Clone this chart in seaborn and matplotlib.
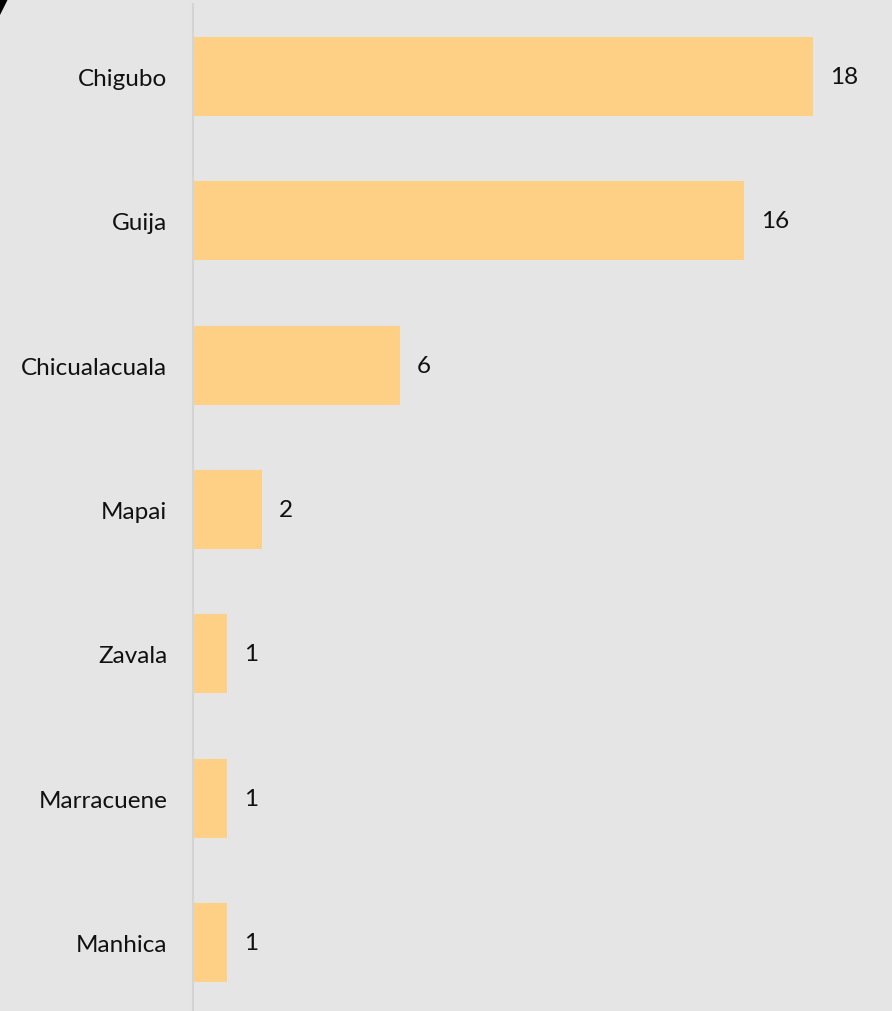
import matplotlib
matplotlib.use("Agg")
import matplotlib.pyplot as plt
from matplotlib.patches import Polygon
import seaborn as sns
import pandas as pd

districts = ["Chigubo", "Guija", "Chicualacuala", "Mapai", "Zavala", "Marracuene", "Manhica"]
counts = [18, 16, 6, 2, 1, 1, 1]

bg = "#e5e5e5"
bar_color = "#fdd086"

sns.set_theme(style="white")
plt.rcParams["font.family"] = ["Lato", "DejaVu Sans"]

df = pd.DataFrame({"district": districts, "count": counts})

W, H = 892, 1012
fig = plt.figure(figsize=(W / 100, H / 100), dpi=100, facecolor=bg)
ax = fig.add_axes([193 / W, -4 / H, 1 - 193 / W, 1011 / H])
ax.set_facecolor(bg)

sns.barplot(data=df, x="count", y="district", color=bar_color, saturation=1,
            width=0.547, orient="h", linewidth=0, ax=ax)

ax.set_xlim(0, (W - 193) / (620 / 18))
ax.set_ylim(len(districts) - 0.5, -0.5)
ax.set_xlabel("")
ax.set_ylabel("")
ax.set_xticks([])
ax.tick_params(axis="y", length=0, pad=18.5, labelsize=17.5, labelcolor="#111111")

for s in ["top", "right", "bottom"]:
    ax.spines[s].set_visible(False)
ax.spines["left"].set_color("#d4d4d4")
ax.spines["left"].set_linewidth(1.5)

for i, v in enumerate(counts):
    ax.annotate(str(v), xy=(v, i), xytext=(12, 0), textcoords="offset points",
                ha="left", va="center", fontsize=17.5, color="#111111")

# dark corner mark at the top left
fig.patches.append(Polygon([(0, 1), (8 / W, 1), (4 / W, 1 - 8 / H), (0, 1 - 16 / H)],
                           closed=True, transform=fig.transFigure,
                           facecolor="black", edgecolor="none"))

fig.savefig("out.png", dpi=100, facecolor=bg)
